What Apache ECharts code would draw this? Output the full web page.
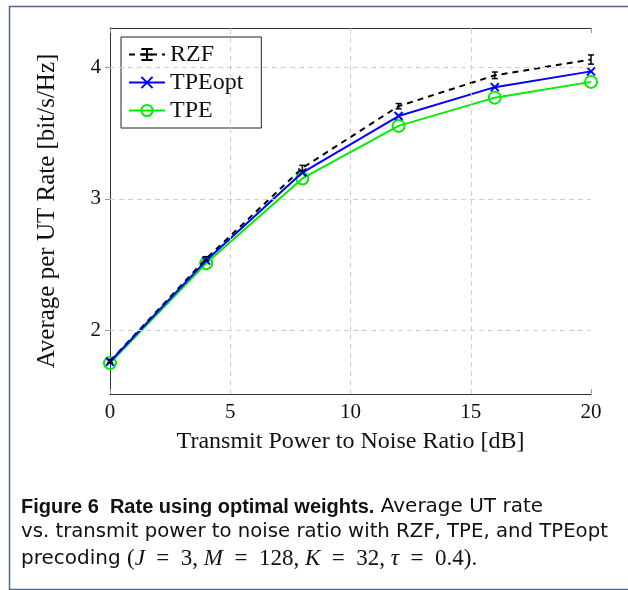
<!DOCTYPE html>
<html><head><meta charset="utf-8">
<script src="https://cdn.jsdelivr.net/npm/echarts@6/dist/echarts.min.js"></script>
<style>html,body{margin:0;padding:0;background:#fff}#c{width:628px;height:590px}</style>
</head><body><div id="c"></div>
<script>
const snr = [0, 4, 8, 12, 16, 20];
const rzf = [1.765, 2.545, 3.235, 3.705, 3.94, 4.06];
const rzfErr = [0.012, 0.015, 0.02, 0.02, 0.025, 0.035];
const tpeOpt = [1.76, 2.53, 3.20, 3.63, 3.85, 3.97];
const tpe = [1.75, 2.51, 3.155, 3.555, 3.77, 3.89];
const xTicks = [0, 5, 10, 15, 20];
const yTicks = [2, 3, 4];
const seriesNames = ['RZF', 'TPEopt', 'TPE'];
const xName = 'Transmit Power to Noise Ratio [dB]';
const yName = 'Average per UT Rate [bit/s/Hz]';

const serif = 'Liberation Serif';
const sans = 'DejaVu Sans';
const sansBold = 'Liberation Sans';
const axisColor = '#333';
const tickColor = '#999';
const yMin = 1.515, yMax = 4.3;

const chart = echarts.init(document.getElementById('c'), null, {renderer: 'canvas'});
const pair = (xs, ys) => xs.map((x, i) => [x, ys[i]]);

const gridLineStyle = {type: [5, 4], color: '#cfcfcf', width: 1};

const option = {
  animation: false,
  backgroundColor: '#fff',
  grid: {left: 110, top: 28, width: 481, height: 366, containLabel: false},
  xAxis: [{
    type: 'value', min: 0, max: 20, interval: 5, position: 'bottom',
    name: xName, nameLocation: 'middle', nameGap: 36,
    nameTextStyle: {fontFamily: serif, fontSize: 24, color: '#111'},
    axisLine: {show: true, lineStyle: {color: axisColor, width: 1}},
    axisTick: {show: true, inside: true, length: 5, lineStyle: {color: tickColor}},
    axisLabel: {fontFamily: serif, fontSize: 21, color: '#111', margin: 8, customValues: xTicks},
    splitLine: {show: false}
  }, {
    type: 'value', min: 0, max: 20, interval: 5, position: 'top',
    axisLine: {show: true, lineStyle: {color: axisColor, width: 1}},
    axisTick: {show: true, inside: true, length: 5, lineStyle: {color: tickColor}},
    axisLabel: {show: false}, splitLine: {show: false}
  }],
  yAxis: [{
    type: 'value', min: yMin, max: yMax, position: 'left',
    name: yName, nameLocation: 'middle', nameGap: 50,
    nameTextStyle: {fontFamily: serif, fontSize: 25, color: '#111'},
    axisLine: {show: true, lineStyle: {color: axisColor, width: 1}},
    axisTick: {show: true, inside: true, length: 5, lineStyle: {color: tickColor}, customValues: yTicks},
    axisLabel: {fontFamily: serif, fontSize: 21, color: '#111', margin: 9, customValues: yTicks},
    splitLine: {show: false}
  }, {
    type: 'value', min: yMin, max: yMax, position: 'right',
    axisLine: {show: true, lineStyle: {color: axisColor, width: 1}},
    axisTick: {show: true, inside: true, length: 5, lineStyle: {color: tickColor}, customValues: yTicks},
    axisLabel: {show: false}, splitLine: {show: false}
  }],
  legend: {
    data: seriesNames,
    orient: 'vertical', left: 121, top: 37,
    backgroundColor: '#fff', borderColor: '#222', borderWidth: 1, borderRadius: 0,
    padding: [5, 18, 5, 7], itemGap: 3, itemWidth: 36, itemHeight: 14,
    textStyle: {fontFamily: serif, fontSize: 24, color: '#111', lineHeight: 25},
    selectedMode: false
  },
  series: [
    {
      name: 'grid', type: 'line', data: [], z: 1, silent: true,
      markLine: {
        silent: true, symbol: 'none', label: {show: false}, lineStyle: gridLineStyle,
        data: yTicks.map(v => ({yAxis: v})).concat(xTicks.filter(v => v > 0 && v < 20).map(v => ({xAxis: v})))
      }
    },
    {
      name: 'RZF', type: 'line', data: pair(snr, rzf), z: 3,
      showSymbol: false,
      symbol: 'path://M-3,-5L3,-5M0,-5L0,5M-3,5L3,5M-3,0L3,0', symbolSize: [6, 9],
      itemStyle: {color: '#000', borderColor: '#000', borderWidth: 1.5},
      lineStyle: {color: '#000', width: 2, type: [6, 5]}
    },
    {
      name: 'RZF err', type: 'custom', z: 4,
      data: snr.map((x, i) => [x, rzf[i] - rzfErr[i], rzf[i] + rzfErr[i]]),
      renderItem: function (params, api) {
        const lo = api.coord([api.value(0), api.value(1)]);
        const hi = api.coord([api.value(0), api.value(2)]);
        const w = 3;
        const st = {stroke: '#000', lineWidth: 1.5};
        return {type: 'group', children: [
          {type: 'line', shape: {x1: lo[0], y1: lo[1], x2: hi[0], y2: hi[1]}, style: st},
          {type: 'line', shape: {x1: lo[0] - w, y1: lo[1], x2: lo[0] + w, y2: lo[1]}, style: st},
          {type: 'line', shape: {x1: hi[0] - w, y1: hi[1], x2: hi[0] + w, y2: hi[1]}, style: st}
        ]};
      }
    },
    {
      name: 'TPEopt', type: 'line', data: pair(snr, tpeOpt), z: 3,
      symbol: 'path://M0,0L10,10M10,0L0,10', symbolSize: 8,
      itemStyle: {color: 'none', borderColor: '#0000ff', borderWidth: 2},
      lineStyle: {color: '#0000ff', width: 2}
    },
    {
      name: 'TPE', type: 'line', data: pair(snr, tpe), z: 2,
      symbol: 'circle', symbolSize: 12,
      itemStyle: {color: 'rgba(0,0,0,0)', borderColor: '#00ee00', borderWidth: 2},
      lineStyle: {color: '#00ee00', width: 2}
    }
  ],
  graphic: [
    {type: 'rect', left: 7, top: 4, shape: {x: 0, y: 0, width: 640, height: 583},
     style: {fill: 'none', stroke: '#50688a', lineWidth: 1.5}, silent: true},
    {type: 'text', left: 21, top: 497, style: {
      text: '{b|Figure 6  Rate using optimal weights.}{n| Average UT rate}',
      rich: {b: {fontFamily: sansBold, fontWeight: 'bold', fontSize: 20, fill: '#111'},
             n: {fontFamily: sans, fontSize: 20, fill: '#111'}}}},
    {type: 'text', left: 21, top: 522, style: {
      text: 'vs. transmit power to noise ratio with RZF, TPE, and TPEopt',
      fontFamily: sans, fontSize: 19.7, fill: '#111'}},
    {type: 'text', left: 21, top: 547, style: {
      text: '{s|precoding }{r|(}{i|J}{r|  =  3, }{i|M}{r|  =  128, }{i|K}{r|  =  32, }{i|τ}{r|  =  0.4).}',
      rich: {s: {fontFamily: sans, fontSize: 20, fill: '#111'},
             r: {fontFamily: serif, fontSize: 23, fill: '#111'},
             i: {fontFamily: serif, fontStyle: 'italic', fontSize: 23, fill: '#111'}}}}
  ]
};
chart.setOption(option);
</script></body></html>
